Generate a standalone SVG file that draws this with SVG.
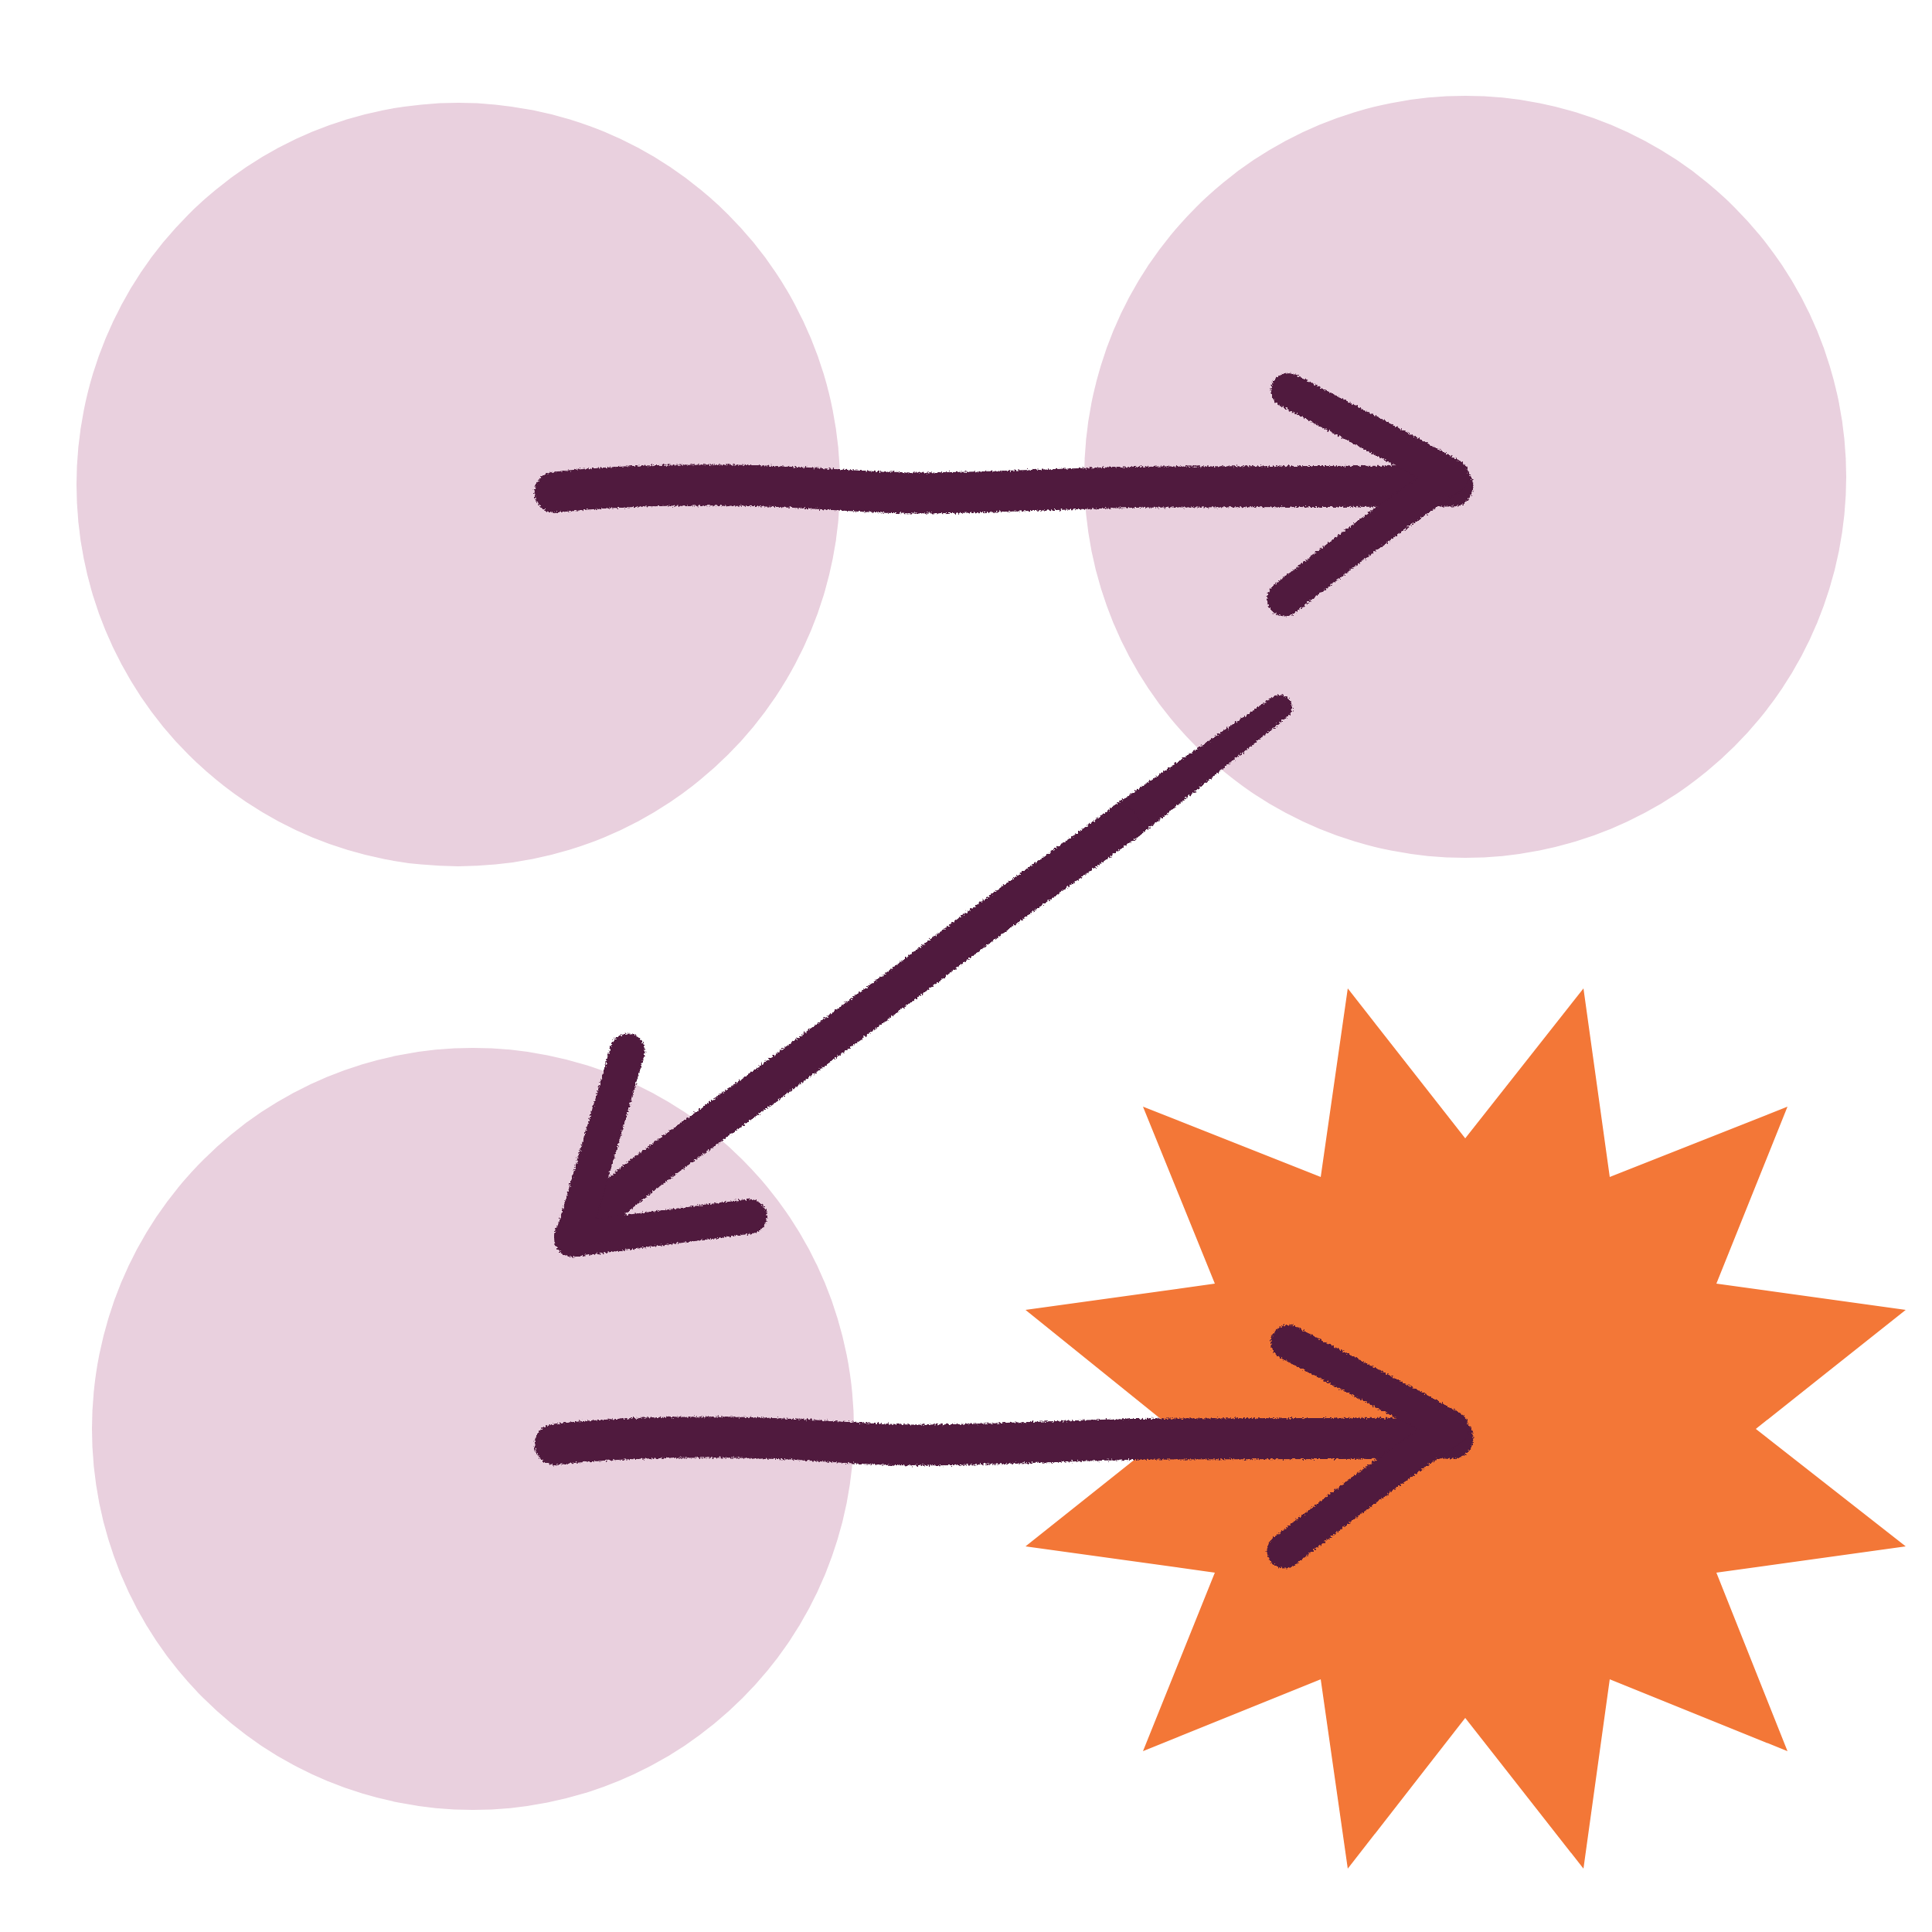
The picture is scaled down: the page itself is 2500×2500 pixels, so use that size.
<svg xmlns="http://www.w3.org/2000/svg" width="2500" height="2500" viewBox="0 0 2500 2500">
<style>
.node{fill:#E9D0DE}
.star{fill:#F37737}
.arrow{fill:none;stroke:#501A3E;stroke-linecap:round;stroke-linejoin:round}
.ink{fill:#501A3E}
</style>
<defs>
<filter id="crayon" x="-5%" y="-5%" width="110%" height="110%" color-interpolation-filters="sRGB">
<feTurbulence type="fractalNoise" baseFrequency="0.45" numOctaves="2" seed="3" result="n"/>
<feDisplacementMap in="SourceGraphic" in2="n" scale="6" xChannelSelector="R" yChannelSelector="G"/>
</filter>
</defs>
<rect width="2500" height="2500" fill="#FFFFFF"/>
<g id="node-1"><circle class="node" cx="593" cy="627" r="494"/></g>
<g id="node-2"><circle class="node" cx="1896" cy="617" r="493"/></g>
<g id="node-3"><circle class="node" cx="612" cy="1849" r="493"/></g>
<g id="node-4"><polygon class="star" points="1744,1279 1896,1473 2049,1279 2083,1523 2313,1432 2221,1661 2466,1695 2272,1849 2466,2001 2221,2035 2313,2266 2083,2173 2049,2418 1896,2223 1744,2418 1709,2173 1479,2266 1572,2035 1327,2001 1518,1849 1327,1695 1572,1661 1479,1432 1709,1523"/></g>
<g id="connectors" filter="url(#crayon)">
<g id="arrow-1">
<path class="arrow" stroke-width="53" d="M 718,637 C 780,630 850,627 950,628 C 1050,629 1120,639 1200,638 C 1300,637 1400,631 1500,630 L 1880,629"/>
<path class="arrow" stroke-width="45" d="M 1667,505 C 1740,543 1810,578 1878,616 C 1800,668 1730,722 1662,775"/>
</g>
<g id="arrow-2">
<path class="ink" d="M 1646.4,902.2 L 1434.4,1047.2 L 1465.6,1088.8 L 1665.6,927.8 A 16 16 0 0 0 1646.4,902.2 Z"/>
<path class="arrow" stroke-width="50" d="M 1450,1068 L 1400,1104 C 1350,1140 1280,1188 1200,1250 C 1100,1325 1000,1398 900,1470 C 840,1513 790,1550 742,1600"/>
<path class="arrow" stroke-width="45" d="M 812,1360 L 740,1604 L 970,1574"/>
</g>
<g id="arrow-3" transform="translate(0,1232)">
<path class="arrow" stroke-width="53" d="M 718,637 C 780,630 850,627 950,628 C 1050,629 1120,639 1200,638 C 1300,637 1400,631 1500,630 L 1880,629"/>
<path class="arrow" stroke-width="45" d="M 1667,505 C 1740,543 1810,578 1878,616 C 1800,668 1730,722 1662,775"/>
</g>
</g>
</svg>
